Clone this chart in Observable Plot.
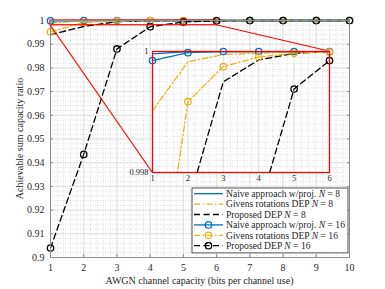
<!DOCTYPE html>
<html><head><meta charset="utf-8">
<script src="https://cdn.jsdelivr.net/npm/d3@7"></script>
<script src="https://cdn.jsdelivr.net/npm/@observablehq/plot@0.6"></script>
<style>
body{margin:0;background:#fff;}
#wrap{position:relative;width:385px;height:289px;overflow:hidden;}
#wrap svg{position:absolute;font-family:"Liberation Serif",serif;}
</style></head><body><div id="wrap"></div>
<script>
// ---- data ----
const capacity = [1, 2, 3, 4, 5, 6, 7, 8, 9, 10];
const naive8     = [0.99996, 1, 1, 1, 1, 1, 1, 1, 1, 1];
const givens8    = [0.99902, 0.99983, 0.99995, 0.99997, 0.99999, 1, 1, 1, 1, 1];
const proposed8  = [0.9940, 0.99747, 0.9995, 0.99986, 0.99997, 1, 1, 1, 1, 1];
const naive16    = [0.99985, 0.99998, 1, 1, 1, 1, 1, 1, 1, 1];
const givens16   = [0.9952, 0.99917, 0.99975, 0.99991, 0.99997, 0.99999, 1, 1, 1, 1];
const proposed16 = [0.9040, 0.9435, 0.9880, 0.99738, 0.99938, 0.99985, 1, 1, 1, 1];

const methodNames = ["Naive approach w/proj.", "Givens rotations DEP", "Proposed DEP"];
const antennaN = [8, 16];
const xTicks = [1, 2, 3, 4, 5, 6, 7, 8, 9, 10];
const yTicks = [0.9, 0.91, 0.92, 0.93, 0.94, 0.95, 0.96, 0.97, 0.98, 0.99, 1];
const yTickLabels = ["0.9", "0.91", "0.92", "0.93", "0.94", "0.95", "0.96", "0.97", "0.98", "0.99", "1"];
const insetXTicks = [1, 2, 3, 4, 5, 6];
const insetYTicks = [0.998, 1];
const insetYTickLabels = ["0.998", "1"];
const zoomX = [1, 6];
const zoomY = [0.998, 1];
const xLabel = "AWGN channel capacity (bits per channel use)";
const yLabel = "Achievable sum capacity ratio";

// ---- styles ----
const colors = ["#0072BD", "#EDB120", "#000000"];
const dashes = [null, "6,2.5,1.5,2.5", "6,3.5"];
const textColor = "#262626";
const axisGray = "#8c8c8c";

const seriesValues = [[naive8, givens8, proposed8], [naive16, givens16, proposed16]];
const series = [];
antennaN.forEach((n, ni) => methodNames.forEach((m, mi) => {
  series.push({n, mi, markers: n === 16,
    rows: capacity.map((x, i) => ({x, y: seriesValues[ni][mi][i]}))});
}));

const minorX = d3.range(1, 10.0001, 0.2).map(v => +v.toFixed(1));
const minorY = d3.range(0.9, 1.00001, 0.002).map(v => +v.toFixed(3));
const insetMinorX = d3.range(1, 6.0001, 0.2).map(v => +v.toFixed(1));
const insetMinorY = d3.range(0.998, 1.000001, 0.0001).map(v => +v.toFixed(4));

const yLabelMap = new Map(yTicks.map((v, i) => [v, yTickLabels[i]]));
const insetYLabelMap = new Map(insetYTicks.map((v, i) => [v, insetYTickLabels[i]]));

function seriesMarks(clip, dotFilter) {
  const marks = [];
  for (const s of series) {
    marks.push(Plot.line(s.rows, {x: "x", y: "y", stroke: colors[s.mi], strokeWidth: 1.3,
      strokeDasharray: dashes[s.mi], clip}));
  }
  for (const s of series) {
    if (s.markers) marks.push(Plot.dot(s.rows.filter(dotFilter), {x: "x", y: "y", r: 3.2,
      stroke: colors[s.mi], strokeWidth: 1.3, fill: "none"}));
  }
  return marks;
}

const wrap = document.getElementById("wrap");

// ---- main plot ----
const main = Plot.plot({
  width: 385, height: 289,
  marginLeft: 50, marginRight: 36, marginTop: 20, marginBottom: 32,
  style: {fontFamily: "Liberation Serif, serif", fontSize: "10px", color: textColor, background: "transparent"},
  x: {domain: [1, 10]},
  y: {domain: [0.9, 1]},
  marks: [
    Plot.gridX(minorX, {stroke: "#c8c8c8", strokeOpacity: 1, strokeWidth: 0.6, strokeDasharray: "1,1.5"}),
    Plot.gridY(minorY, {stroke: "#c8c8c8", strokeOpacity: 1, strokeWidth: 0.6, strokeDasharray: "1,1.5"}),
    Plot.gridX(xTicks, {stroke: "#dcdcdc", strokeOpacity: 1, strokeWidth: 0.8}),
    Plot.gridY(yTicks, {stroke: "#dcdcdc", strokeOpacity: 1, strokeWidth: 0.8}),
    ...seriesMarks(false, () => true),
    Plot.rect([{x1: zoomX[0], x2: zoomX[1], y1: zoomY[0], y2: zoomY[1]}],
      {x1: "x1", x2: "x2", y1: "y1", y2: "y2", fill: "none", stroke: "#ff0000", strokeWidth: 1.2}),
    Plot.frame({stroke: axisGray, strokeWidth: 1}),
    Plot.axisX(xTicks, {anchor: "bottom", tickSize: -3, tickPadding: 9, stroke: axisGray, label: null, fontSize: 10}),
    Plot.axisX(xTicks, {anchor: "top", tickSize: -3, tickFormat: () => "", stroke: axisGray, label: null}),
    Plot.axisY(yTicks, {anchor: "left", tickSize: -3, tickPadding: 9, stroke: axisGray, label: null,
      tickFormat: d => yLabelMap.get(d), fontSize: 10}),
    Plot.axisY(yTicks, {anchor: "right", tickSize: -3, tickFormat: () => "", stroke: axisGray, label: null})
  ]
});
main.style.left = "0px"; main.style.top = "0px";
wrap.appendChild(main);

// ---- inset plot ----
const insetLeft = 112, insetTop = 41;
const inset = Plot.plot({
  width: 227, height: 145,
  marginLeft: 40, marginRight: 10, marginTop: 10, marginBottom: 14,
  style: {fontFamily: "Liberation Serif, serif", fontSize: "9px", color: textColor, background: "transparent", overflow: "visible"},
  x: {domain: zoomX},
  y: {domain: zoomY},
  marks: [
    Plot.frame({fill: "white", stroke: "none"}),
    Plot.gridX(insetMinorX, {stroke: "#c8c8c8", strokeOpacity: 1, strokeWidth: 0.6, strokeDasharray: "1,1.5"}),
    Plot.gridY(insetMinorY, {stroke: "#c8c8c8", strokeOpacity: 1, strokeWidth: 0.6, strokeDasharray: "1,1.5"}),
    Plot.gridX(insetXTicks, {stroke: "#dcdcdc", strokeOpacity: 1, strokeWidth: 0.8}),
    ...seriesMarks(true, d => d.y >= zoomY[0] && d.x <= zoomX[1]),
    Plot.frame({stroke: "#ff0000", strokeWidth: 1.3}),
    Plot.axisX(insetXTicks, {anchor: "bottom", tickSize: 0, tickPadding: 2, label: null, fontSize: 8.5}),
    Plot.axisY(insetYTicks, {anchor: "left", tickSize: 0, tickPadding: 4, label: null,
      tickFormat: d => insetYLabelMap.get(d), fontSize: 8.5})
  ]
});
inset.style.left = insetLeft + "px"; inset.style.top = insetTop + "px";
wrap.appendChild(inset);

// ---- connector lines (from the two plots' scales) ----
const mx = main.scale("x"), my = main.scale("y");
const ix = inset.scale("x"), iy = inset.scale("y");
const msvg = d3.select(main);
const connectors = [
  [[mx.apply(zoomX[0]), my.apply(zoomY[0])], [insetLeft + ix.apply(zoomX[0]), insetTop + iy.apply(zoomY[0])]],
  [[mx.apply(zoomX[1]), my.apply(zoomY[0])], [insetLeft + ix.apply(zoomX[1]), insetTop + iy.apply(zoomY[1])]]
];
for (const [a, b] of connectors) {
  msvg.append("line").attr("x1", a[0]).attr("y1", a[1]).attr("x2", b[0]).attr("y2", b[1])
    .attr("stroke", "#ff0000").attr("stroke-width", 1.2);
}

// ---- axis titles ----
msvg.append("text").attr("x", (mx.apply(1) + mx.apply(10)) / 2).attr("y", 284)
  .attr("text-anchor", "middle").attr("font-size", 10).attr("fill", textColor).text(xLabel);
msvg.append("text").attr("transform", `translate(23,${(my.apply(0.9) + my.apply(1)) / 2}) rotate(-90)`)
  .attr("text-anchor", "middle").attr("font-size", 10).attr("fill", textColor).text(yLabel);

// ---- legend ----
const lg = d3.create("svg:svg").attr("width", 385).attr("height", 289)
  .style("left", "0px").style("top", "0px");
const lgX = 192, lgY = 188, lgW = 156, rowH = 10.4;
lg.append("rect").attr("x", lgX).attr("y", lgY).attr("width", lgW).attr("height", rowH * 6 + 2.5)
  .attr("fill", "white").attr("stroke", textColor).attr("stroke-width", 0.8);
series.forEach((s, i) => {
  const cy = lgY + 5.7 + i * rowH;
  lg.append("line").attr("x1", lgX + 2).attr("x2", lgX + 31).attr("y1", cy).attr("y2", cy)
    .attr("stroke", colors[s.mi]).attr("stroke-width", 1.3).attr("stroke-dasharray", dashes[s.mi]);
  if (s.markers) lg.append("circle").attr("cx", lgX + 16.5).attr("cy", cy).attr("r", 3.2)
    .attr("fill", "none").attr("stroke", colors[s.mi]).attr("stroke-width", 1.3);
  const t = lg.append("text").attr("x", lgX + 34).attr("y", cy + 3.2).attr("font-size", 9.6).attr("fill", textColor);
  t.append("tspan").text(methodNames[s.mi] + " ");
  t.append("tspan").attr("font-style", "italic").text("N");
  t.append("tspan").text(" = " + s.n);
});
wrap.appendChild(lg.node());
</script></body></html>
